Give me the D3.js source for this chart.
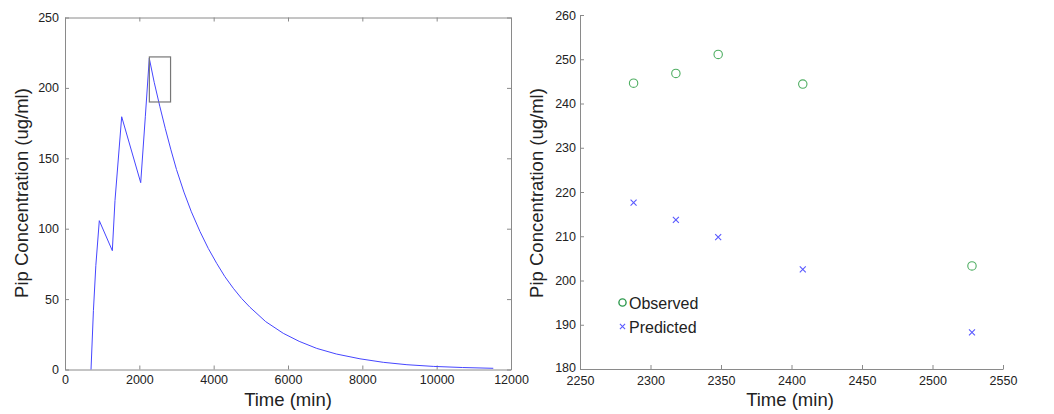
<!DOCTYPE html>
<html>
<head>
  <meta charset="utf-8">
  <style>
    body { margin: 0; background: #fff; }
    svg { font-family: "Liberation Sans", Arial, sans-serif; }
    .axis path, .axis line { stroke: #8a8a8a; }
    .axis text { font-size: 12.5px; fill: #222; }
    .title { font-size: 18.5px; fill: #222; }
    .legend { font-size: 16px; fill: #222; }
  </style>
</head>
<body>
  <svg width="1054" height="414"></svg>
  <script src="https://d3js.org/d3.v7.min.js"></script>
  <script>
    // left panel: full concentration-time profile
    const profileTime = [700, 765, 830, 923, 1273, 1345, 1525, 2037, 2161, 2268, 2400, 2550, 2700, 2850,
      3000, 3200, 3400, 3632, 3855, 4081, 4300, 4528, 4750, 4977, 5400, 5873, 6300, 6772, 7300,
      7936, 8564, 9200, 9909, 10700, 11523];
    const profileConc = [0, 42, 74, 105.7, 84.4, 120, 179.5, 132.7, 179.5, 221, 204, 187, 171, 156,
      142, 126, 112, 98, 86, 75.4, 66, 57.7, 50.5, 44.2, 34, 25.7, 20, 15, 11,
      7.6, 5.1, 3.4, 2.2, 1.4, 0.85];
    const zoomBoxTime = [2270, 2840];
    const zoomBoxConc = [190, 222];
    const leftXTicks = [0, 2000, 4000, 6000, 8000, 10000, 12000];
    const leftYTicks = [0, 50, 100, 150, 200, 250];

    // right panel: observed vs predicted near the peak
    const sampleTime = [2288, 2318, 2348, 2408, 2528];
    const observed = [244.6, 246.8, 251.1, 244.4, 203.3];
    const predicted = [217.6, 213.7, 209.8, 202.5, 188.3];
    const rightXTicks = [2250, 2300, 2350, 2400, 2450, 2500, 2550];
    const rightYTicks = [180, 190, 200, 210, 220, 230, 240, 250, 260];

    const svg = d3.select("svg");
    const yTitle = "Pip Concentration (ug/ml)";
    const fmt = d3.format("d");

    // ---- left chart ----
    const lx = d3.scaleLinear().domain([0, 12000]).range([65, 511]);
    const ly = d3.scaleLinear().domain([0, 250]).range([369.5, 17.5]);

    svg.append("g").attr("class", "axis")
      .attr("transform", "translate(0,369.5)")
      .call(d3.axisBottom(lx).tickValues(leftXTicks).tickFormat(fmt)
        .tickSizeInner(-4).tickSizeOuter(0).tickPadding(6));
    svg.append("g").attr("class", "axis")
      .attr("transform", "translate(0,17.5)")
      .call(d3.axisTop(lx).tickValues(leftXTicks).tickFormat("")
        .tickSizeInner(-4).tickSizeOuter(0));
    svg.append("g").attr("class", "axis")
      .attr("transform", "translate(65,0)")
      .call(d3.axisLeft(ly).tickValues(leftYTicks)
        .tickSizeInner(-4).tickSizeOuter(0).tickPadding(6));
    svg.append("g").attr("class", "axis")
      .attr("transform", "translate(511,0)")
      .call(d3.axisRight(ly).tickValues(leftYTicks).tickFormat("")
        .tickSizeInner(-4).tickSizeOuter(0));

    const profile = profileTime.map((t, i) => [t, profileConc[i]]);
    svg.append("path")
      .datum(profile)
      .attr("fill", "none")
      .attr("stroke", "#4646ff")
      .attr("stroke-width", 1)
      .attr("d", d3.line().x(d => lx(d[0])).y(d => ly(d[1])));

    svg.append("rect")
      .attr("x", lx(zoomBoxTime[0]))
      .attr("y", ly(zoomBoxConc[1]))
      .attr("width", lx(zoomBoxTime[1]) - lx(zoomBoxTime[0]))
      .attr("height", ly(zoomBoxConc[0]) - ly(zoomBoxConc[1]))
      .attr("fill", "none")
      .attr("stroke", "#777")
      .attr("stroke-width", 1.2);

    svg.append("text").attr("class", "title")
      .attr("x", 288).attr("y", 406).attr("text-anchor", "middle")
      .text("Time (min)");
    svg.append("text").attr("class", "title")
      .attr("transform", "translate(28,193) rotate(-90)")
      .attr("text-anchor", "middle")
      .text(yTitle);

    // ---- right chart ----
    const rx = d3.scaleLinear().domain([2250, 2550]).range([580, 1003]);
    const ry = d3.scaleLinear().domain([180, 260]).range([369, 15]);

    svg.append("g").attr("class", "axis")
      .attr("transform", "translate(0,369)")
      .call(d3.axisBottom(rx).tickValues(rightXTicks).tickFormat(fmt)
        .tickSizeInner(-4).tickSizeOuter(0).tickPadding(7));
    svg.append("g").attr("class", "axis")
      .attr("transform", "translate(580,0)")
      .call(d3.axisLeft(ry).tickValues(rightYTicks)
        .tickSizeInner(-4).tickSizeOuter(0).tickPadding(4))
      .selectAll(".tick text").attr("dy", d => d === 180 ? "0.2em" : "0.32em");

    const greenC = "#4fae62";
    const blueX = "#5a5aff";

    svg.append("g").selectAll("circle")
      .data(sampleTime)
      .join("circle")
      .attr("cx", d => rx(d))
      .attr("cy", (d, i) => ry(observed[i]))
      .attr("r", 4.2)
      .attr("fill", "none")
      .attr("stroke", greenC)
      .attr("stroke-width", 1.1);

    const cross = (g, cx, cy, s) => {
      g.append("path")
        .attr("d", `M${cx - s},${cy - s}L${cx + s},${cy + s}M${cx - s},${cy + s}L${cx + s},${cy - s}`)
        .attr("stroke", blueX)
        .attr("stroke-width", 1.1);
    };
    const px = svg.append("g");
    sampleTime.forEach((t, i) => cross(px, rx(t), ry(predicted[i]), 3));

    // legend
    svg.append("circle")
      .attr("cx", 622.5).attr("cy", 302.5).attr("r", 3.6)
      .attr("fill", "none").attr("stroke", "#2f9a4f").attr("stroke-width", 1.4);
    svg.append("text").attr("class", "legend")
      .attr("x", 629).attr("y", 308.5).text("Observed");
    cross(svg, 622.5, 326.5, 2.6);
    svg.append("text").attr("class", "legend")
      .attr("x", 629).attr("y", 333).text("Predicted");

    svg.append("text").attr("class", "title")
      .attr("x", 790).attr("y", 406).attr("text-anchor", "middle")
      .text("Time (min)");
    svg.append("text").attr("class", "title")
      .attr("transform", "translate(543,193) rotate(-90)")
      .attr("text-anchor", "middle")
      .text(yTitle);
  </script>
</body>
</html>
